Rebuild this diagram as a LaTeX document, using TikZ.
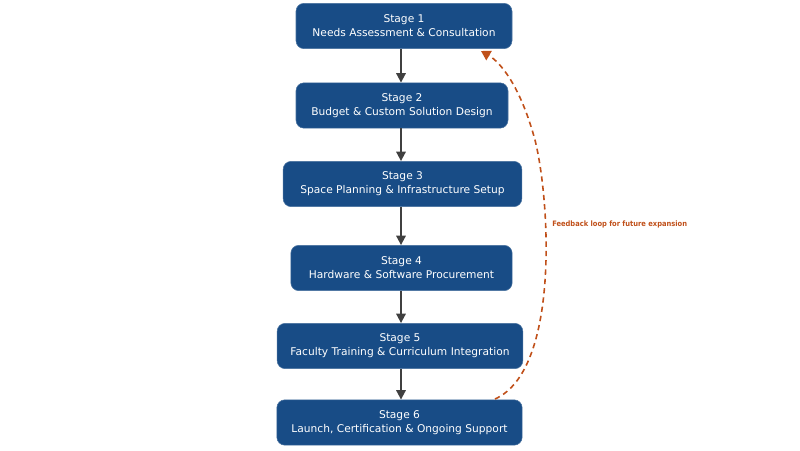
\documentclass[tikz,border=0pt]{standalone}
\usepackage{fontspec}
\setmainfont{DejaVu Sans}
\newfontfamily\cond{DejaVu Sans Condensed}
\usetikzlibrary{arrows.meta}
\definecolor{boxblue}{HTML}{184C86}
\definecolor{fb}{HTML}{C0501A}
\begin{document}
\begin{tikzpicture}[x=0.75pt,y=-0.75pt,
  stage/.style={draw=boxblue!80!white,fill=boxblue,rounded corners=6pt,text=white,font=\fontsize{8}{10.5}\selectfont,align=center,minimum height=34pt,inner xsep=10pt},
  flow/.style={draw=black!75,line width=1.4pt,-{Triangle[length=7pt,width=7pt]}}]
\useasboundingbox (0,0) rectangle (800,450);
\node[stage,minimum width=162pt] (s1) at (404,26) {Stage 1\\Needs Assessment \& Consultation};
\node[stage,minimum width=159pt] (s2) at (402,105.5) {Stage 2\\Budget \& Custom Solution Design};
\node[stage,minimum width=179pt] (s3) at (402.5,184) {Stage 3\\Space Planning \& Infrastructure Setup};
\node[stage,minimum width=166pt] (s4) at (401.5,268) {Stage 4\\Hardware \& Software Procurement};
\node[stage,minimum width=184pt] (s5) at (400,346) {Stage 5\\Faculty Training \& Curriculum Integration};
\node[stage,minimum width=184pt] (s6) at (399.5,422.5) {Stage 6\\Launch, Certification \& Ongoing Support};
\coordinate (ax) at (401,0);
\draw[flow] (s1.south -| ax) -- (s2.north -| ax);
\draw[flow] (s2.south -| ax) -- (s3.north -| ax);
\draw[flow] (s3.south -| ax) -- (s4.north -| ax);
\draw[flow] (s4.south -| ax) -- (s5.north -| ax);
\draw[flow] (s5.south -| ax) -- (s6.north -| ax);
\coordinate (tip) at (481,51);
\draw[fb,line width=1.2pt,dash pattern=on 4pt off 3pt,-{Triangle[length=7pt,width=8pt]}]
  (495,399) .. controls (560,370) and (550,200) .. (535,140) .. controls (520,85) and (500,62) .. (tip);
\node[text=fb,font=\cond\bfseries\fontsize{5.6}{7}\selectfont,anchor=west,inner xsep=0pt] (lbl) at (552,224) {Feedback loop for future expansion};
\end{tikzpicture}
\end{document}
